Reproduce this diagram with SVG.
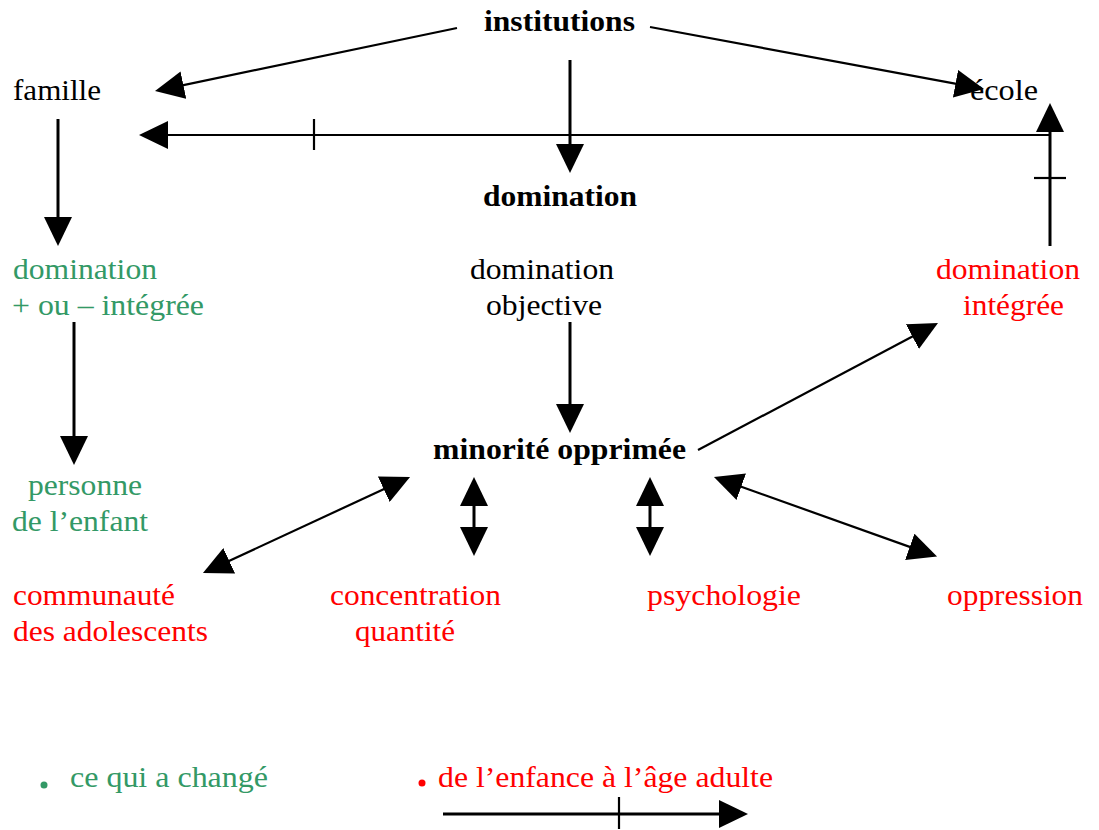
<svg xmlns="http://www.w3.org/2000/svg" width="1099" height="830" viewBox="0 0 1099 830">
  <style>
    text { font-family: "Liberation Serif", "Times New Roman", serif; font-size: 30px; }
    .b { font-weight: bold; }
    .k { fill: #000000; }
    .g { fill: #339966; }
    .r { fill: #ff0000; }
    .ln { stroke: #000000; fill: none; }
    .w3 { stroke-width: 3; }
    .w2 { stroke-width: 2.2; }
  </style>
  <defs>
    <marker id="head" viewBox="0 0 29 28" markerUnits="userSpaceOnUse" markerWidth="29" markerHeight="28" refX="23" refY="14" orient="auto-start-reverse">
      <path d="M0,0 L29,14 L0,28 Z" fill="#000000"/>
    </marker>
  </defs>

  <g id="connectors">
    <!-- institutions to famille / école / domination -->
    <line class="ln w2" x1="457" y1="28" x2="160.9" y2="89.8" marker-end="url(#head)"/>
    <line class="ln w2" x1="650" y1="27" x2="978.1" y2="87.9" marker-end="url(#head)"/>
    <line class="ln w3" x1="570" y1="60" x2="570" y2="167" marker-end="url(#head)"/>
    <!-- return path école to famille with ticks -->
    <line class="ln w2" x1="1050" y1="135" x2="145" y2="135" marker-end="url(#head)"/>
    <line class="ln w2" x1="314" y1="119" x2="314" y2="150"/>
    <line class="ln w3" x1="1050" y1="246" x2="1050" y2="109" marker-end="url(#head)"/>
    <line class="ln w2" x1="1034" y1="178" x2="1066" y2="178"/>
    <!-- famille branch -->
    <line class="ln w3" x1="58" y1="119" x2="58" y2="240" marker-end="url(#head)"/>
    <line class="ln w3" x1="74" y1="322" x2="74" y2="459" marker-end="url(#head)"/>
    <!-- domination objective to minorité -->
    <line class="ln w3" x1="570" y1="322" x2="570" y2="427" marker-end="url(#head)"/>
    <!-- minorité to domination intégrée -->
    <line class="ln w2" x1="698" y1="450" x2="932.7" y2="325.8" marker-end="url(#head)"/>
    <!-- two-way links around minorité opprimée -->
    <line class="ln w2" x1="208.4" y1="570.5" x2="404.6" y2="479.5" marker-start="url(#head)" marker-end="url(#head)"/>
    <line class="ln w3" x1="474" y1="483" x2="474" y2="550" marker-start="url(#head)" marker-end="url(#head)"/>
    <line class="ln w3" x1="650" y1="483" x2="650" y2="550" marker-start="url(#head)" marker-end="url(#head)"/>
    <line class="ln w2" x1="719.6" y1="479" x2="931.4" y2="554.6" marker-start="url(#head)" marker-end="url(#head)"/>
  </g>

  <g id="n-institutions"><text class="b k" x="484" y="31" textLength="151" lengthAdjust="spacingAndGlyphs">institutions</text></g>
  <g id="n-famille"><text class="k" x="13" y="100" textLength="88" lengthAdjust="spacingAndGlyphs">famille</text></g>
  <g id="n-ecole"><text class="k" x="970" y="100" textLength="68" lengthAdjust="spacingAndGlyphs">école</text></g>
  <g id="n-domination"><text class="b k" x="483" y="206" textLength="154" lengthAdjust="spacingAndGlyphs">domination</text></g>
  <g id="n-domination-plus-moins">
    <text class="g" x="13" y="279" textLength="144" lengthAdjust="spacingAndGlyphs">domination</text>
    <text class="g" x="12" y="315" textLength="192" lengthAdjust="spacingAndGlyphs">+ ou – intégrée</text>
  </g>
  <g id="n-domination-objective">
    <text class="k" x="470" y="279" textLength="144" lengthAdjust="spacingAndGlyphs">domination</text>
    <text class="k" x="486" y="315" textLength="116" lengthAdjust="spacingAndGlyphs">objective</text>
  </g>
  <g id="n-domination-integree">
    <text class="r" x="936" y="279" textLength="144" lengthAdjust="spacingAndGlyphs">domination</text>
    <text class="r" x="963" y="315" textLength="101" lengthAdjust="spacingAndGlyphs">intégrée</text>
  </g>
  <g id="n-minorite"><text class="b k" x="433" y="459" textLength="253" lengthAdjust="spacingAndGlyphs">minorité opprimée</text></g>
  <g id="n-personne">
    <text class="g" x="28" y="495" textLength="114" lengthAdjust="spacingAndGlyphs">personne</text>
    <text class="g" x="12" y="531" textLength="136" lengthAdjust="spacingAndGlyphs">de l’enfant</text>
  </g>
  <g id="n-communaute">
    <text class="r" x="13" y="605" textLength="162" lengthAdjust="spacingAndGlyphs">communauté</text>
    <text class="r" x="13" y="641" textLength="195" lengthAdjust="spacingAndGlyphs">des adolescents</text>
  </g>
  <g id="n-concentration">
    <text class="r" x="330" y="605" textLength="171" lengthAdjust="spacingAndGlyphs">concentration</text>
    <text class="r" x="355" y="641" textLength="100" lengthAdjust="spacingAndGlyphs">quantité</text>
  </g>
  <g id="n-psychologie"><text class="r" x="647" y="605" textLength="154" lengthAdjust="spacingAndGlyphs">psychologie</text></g>
  <g id="n-oppression"><text class="r" x="947" y="605" textLength="136" lengthAdjust="spacingAndGlyphs">oppression</text></g>

  <g id="legend">
    <circle cx="44" cy="785" r="3.5" fill="#339966"/>
    <text class="g" x="70" y="787" textLength="198" lengthAdjust="spacingAndGlyphs">ce qui a changé</text>
    <circle cx="422" cy="783" r="3.5" fill="#ff0000"/>
    <text class="r" x="438" y="787" textLength="335" lengthAdjust="spacingAndGlyphs">de l’enfance à l’âge adulte</text>
    <line class="ln w3" x1="443" y1="814" x2="742" y2="814" marker-end="url(#head)"/>
    <line class="ln w2" x1="619" y1="797" x2="619" y2="829"/>
  </g>
</svg>
